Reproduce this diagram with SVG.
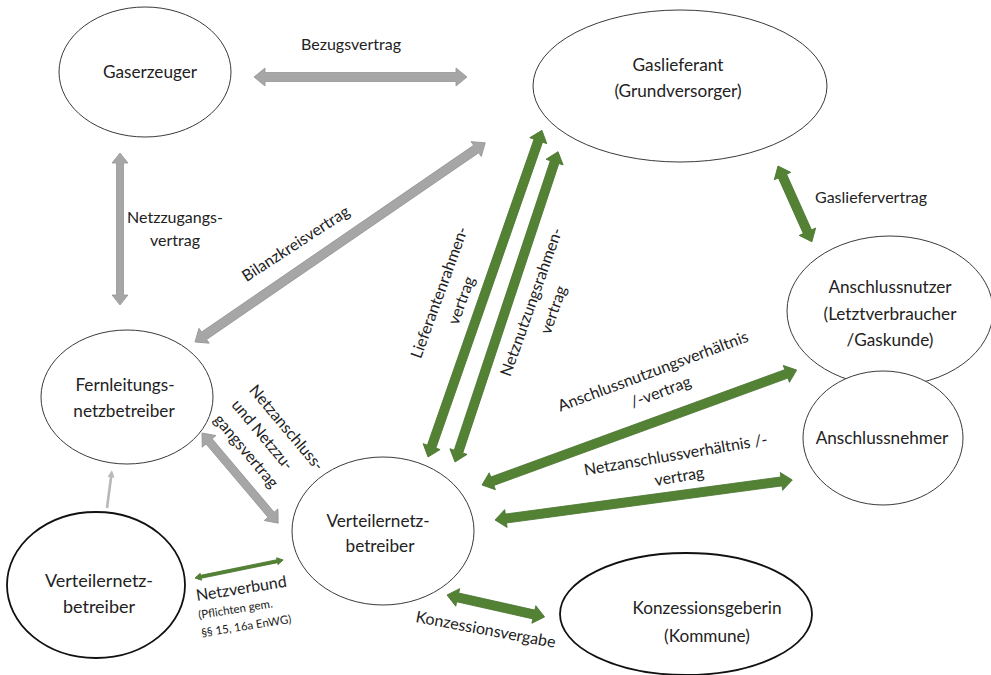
<svg xmlns="http://www.w3.org/2000/svg" width="991" height="675" viewBox="0 0 991 675">
<style>
.node ellipse{fill:#fff;stroke:#3a3a3a;stroke-width:1}
.node.bold ellipse{stroke:#111;stroke-width:1.8}
text{font-family:Lato,"Liberation Sans",sans-serif;fill:#222}
.nl{font-size:17.2px;text-anchor:middle}
.nlb{font-size:18px;text-anchor:middle}
.el{font-size:16px}
.sm{font-size:11.5px}
.gray{fill:#a6a6a6;stroke:#969696;stroke-width:0.8}
.green{fill:#548235;stroke:#4a7530;stroke-width:0.8}
.mid{text-anchor:middle}
</style>
<rect width="991" height="675" fill="#fff"/>
<g id="connectors">
<path class="gray" transform="translate(254,77)" d="M0,0 L11,-9 L11,-4.5 L202,-4.5 L202,-9 L213,0 L202,9 L202,4.5 L11,4.5 L11,9 Z"/>
<path class="gray" transform="translate(120,153) rotate(90)" d="M0,0 L10,-8 L10,-3.5 L142,-3.5 L142,-8 L152,0 L142,8 L142,3.5 L10,3.5 L10,8 Z"/>
<path class="gray" transform="translate(195,342) rotate(-34.46)" d="M0,0 L11,-9 L11,-4.5 L341,-4.5 L341,-9 L352,0 L341,9 L341,4.5 L11,4.5 L11,9 Z"/>
<path class="gray" transform="translate(202,433) rotate(49.8)" d="M0,0 L11,-9 L11,-4 L107,-4 L107,-9 L118,0 L107,9 L107,4 L11,4 L11,9 Z"/>
<path fill="#b8b8b8" transform="translate(107,508) rotate(-82.5)" d="M0,-1.3 L31,-1.3 L31,-3.5 L38,0 L31,3.5 L31,1.3 L0,1.3 Z"/>
<path class="green" transform="translate(428,457) rotate(-70.78)" d="M0,0 L11,-9 L11,-4.5 L335,-4.5 L335,-9 L346,0 L335,9 L335,4.5 L11,4.5 L11,9 Z"/>
<path class="green" transform="translate(455,462) rotate(-71.63)" d="M0,0 L11,-9 L11,-4.5 L316,-4.5 L316,-9 L327,0 L316,9 L316,4.5 L11,4.5 L11,9 Z"/>
<path class="green" transform="translate(778,166) rotate(65.9)" d="M0,0 L11,-9 L11,-4.5 L72,-4.5 L72,-9 L83,0 L72,9 L72,4.5 L11,4.5 L11,9 Z"/>
<path class="green" transform="translate(482,485) rotate(-20.06)" d="M0,0 L11,-9 L11,-4.5 L324,-4.5 L324,-9 L335,0 L324,9 L324,4.5 L11,4.5 L11,9 Z"/>
<path class="green" transform="translate(495,520) rotate(-7.67)" d="M0,0 L11,-9 L11,-4.5 L289,-4.5 L289,-9 L300,0 L289,9 L289,4.5 L11,4.5 L11,9 Z"/>
<path class="green" transform="translate(195,578) rotate(-11.56)" d="M0,0 L6,-3.5 L6,-1.5 L84,-1.5 L84,-3.5 L90,0 L84,3.5 L84,1.5 L6,1.5 L6,3.5 Z"/>
<path class="green" transform="translate(447,595) rotate(12.65)" d="M0,0 L11,-9 L11,-4.5 L89,-4.5 L89,-9 L100,0 L89,9 L89,4.5 L11,4.5 L11,9 Z"/>
</g>
<g id="edge-labels">
<text class="el mid" x="351" y="50">Bezugsvertrag</text>
<text class="el mid" x="175" y="223">Netzzugangs-</text>
<text class="el mid" x="175" y="246">vertrag</text>
<text class="el mid" transform="translate(296,244) rotate(-33)" y="5">Bilanzkreisvertrag</text>
<text class="el mid" transform="translate(450.5,296.5) rotate(-70)"><tspan x="0" y="-6.5">Lieferantenrahmen-</tspan><tspan x="0" y="17">vertrag</tspan></text>
<text class="el mid" transform="translate(542.5,306) rotate(-70.5)"><tspan x="0" y="-6.5">Netznutzungsrahmen-</tspan><tspan x="0" y="17">vertrag</tspan></text>
<text class="el" x="815" y="203">Gasliefervertrag</text>
<text class="el mid" transform="translate(657,382) rotate(-20.5)"><tspan x="0" y="-6">Anschlussnutzungsverhältnis</tspan><tspan x="0" y="16">/-vertrag</tspan></text>
<text class="el mid" transform="translate(677.5,466) rotate(-9.5)"><tspan x="0" y="-6">Netzanschlussverhältnis /-</tspan><tspan x="0" y="16">vertrag</tspan></text>
<text class="el" transform="translate(234.5,402) rotate(50)"><tspan x="0" y="-18">Netzanschluss-</tspan><tspan x="0" y="5">und Netzzu-</tspan><tspan x="0" y="28">gangsvertrag</tspan></text>
<text class="el" transform="translate(197,601) rotate(-9)">Netzverbund</text>
<text class="sm" transform="translate(199,619) rotate(-9)">(Pflichten gem.</text>
<text class="sm" transform="translate(202,637) rotate(-9)">§§ 15, 16a EnWG)</text>
<text class="el" transform="translate(415,622) rotate(10.5)">Konzessionsvergabe</text>
</g>
<g id="gaserzeuger" class="node"><ellipse cx="145" cy="72" rx="86" ry="65"/><text class="nl" x="150" y="78">Gaserzeuger</text></g>
<g id="gaslieferant" class="node"><ellipse cx="680" cy="86" rx="147" ry="76"/><text class="nl" x="678" y="71">Gaslieferant</text><text class="nl" x="678" y="97">(Grundversorger)</text></g>
<g id="anschlussnutzer" class="node"><ellipse cx="890" cy="311" rx="103" ry="75"/><text class="nl" x="890" y="293">Anschlussnutzer</text><text class="nl" x="890" y="320">(Letztverbraucher</text><text class="nl" x="890" y="346">/Gaskunde)</text></g>
<g id="anschlussnehmer" class="node"><ellipse cx="883" cy="438" rx="80" ry="67"/><text class="nl" x="882" y="444">Anschlussnehmer</text></g>
<g id="fernleitungsnetzbetreiber" class="node"><ellipse cx="127" cy="397" rx="86" ry="67"/><text class="nl" x="125" y="391">Fernleitungs-</text><text class="nl" x="124" y="417">netzbetreiber</text></g>
<g id="verteilernetzbetreiber-mitte" class="node"><ellipse cx="383" cy="531" rx="91" ry="74"/><text class="nl" x="378" y="527">Verteilernetz-</text><text class="nl" x="380" y="552">betreiber</text></g>
<g id="verteilernetzbetreiber-links" class="node bold"><ellipse cx="96" cy="585" rx="89" ry="73"/><text class="nlb" x="99" y="587">Verteilernetz-</text><text class="nlb" x="99" y="613">betreiber</text></g>
<g id="konzessionsgeberin" class="node bold"><ellipse cx="686" cy="614" rx="126" ry="61"/><text class="nl" x="707" y="614">Konzessionsgeberin</text><text class="nl" x="707" y="642">(Kommune)</text></g>
</svg>
